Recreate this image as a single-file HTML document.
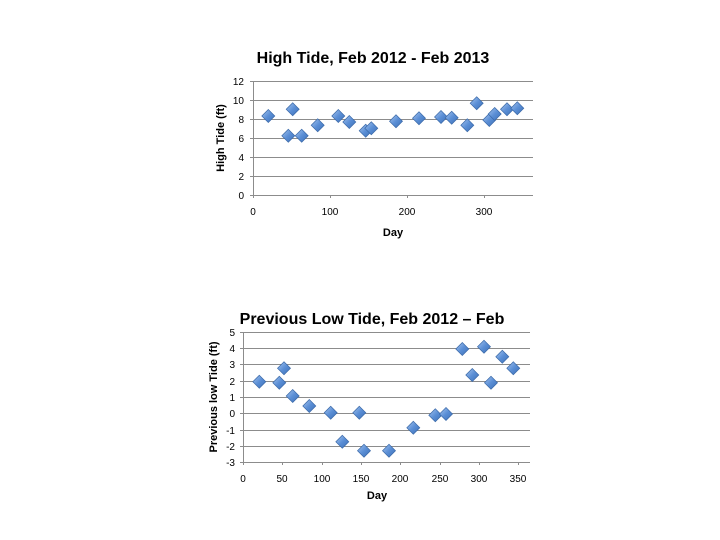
<!DOCTYPE html>
<html><head><meta charset="utf-8"><style>
html,body{margin:0;padding:0;background:#fff}
svg{display:block}
text{font-family:"Liberation Sans",sans-serif;fill:#000}
</style></head><body>
<svg width="720" height="540" viewBox="0 0 720 540" xmlns="http://www.w3.org/2000/svg">
<defs>
<linearGradient id="g" x1="0" y1="0" x2="1" y2="1">
<stop offset="0" stop-color="#a9c6ee"/><stop offset="0.5" stop-color="#5b8fd6"/><stop offset="1" stop-color="#3d6fb5"/>
</linearGradient>
<symbol id="d" viewBox="-7 -7 14 14" overflow="visible"><path d="M0,-6.5 L6.5,0 L0,6.5 L-6.5,0 Z" fill="url(#g)" stroke="#3a69a8" stroke-width="0.7"/></symbol>
</defs>
<!-- Chart 1 -->
<text x="373" y="63" font-size="16" font-weight="bold" text-anchor="middle">High Tide, Feb 2012 - Feb 2013</text>
<g stroke="#8c8c8c" stroke-width="1">
<line x1="253" y1="81.5" x2="533" y2="81.5"/><line x1="253" y1="100.5" x2="533" y2="100.5"/>
<line x1="253" y1="119.5" x2="533" y2="119.5"/><line x1="253" y1="138.5" x2="533" y2="138.5"/>
<line x1="253" y1="157.5" x2="533" y2="157.5"/><line x1="253" y1="176.5" x2="533" y2="176.5"/>
<line x1="253" y1="195.5" x2="533" y2="195.5"/>
<line x1="253.5" y1="81" x2="253.5" y2="198"/>
<line x1="250" y1="81.5" x2="253" y2="81.5"/><line x1="250" y1="100.5" x2="253" y2="100.5"/>
<line x1="250" y1="119.5" x2="253" y2="119.5"/><line x1="250" y1="138.5" x2="253" y2="138.5"/>
<line x1="250" y1="157.5" x2="253" y2="157.5"/><line x1="250" y1="176.5" x2="253" y2="176.5"/>
<line x1="250" y1="195.5" x2="253" y2="195.5"/>
<line x1="330.5" y1="195" x2="330.5" y2="198"/><line x1="407.5" y1="195" x2="407.5" y2="198"/><line x1="484.5" y1="195" x2="484.5" y2="198"/>
</g>
<g font-size="10" text-anchor="end">
<text x="244" y="85">12</text><text x="244" y="104">10</text><text x="244" y="123">8</text><text x="244" y="142">6</text>
<text x="244" y="161">4</text><text x="244" y="180">2</text><text x="244" y="199">0</text>
</g>
<g font-size="10" text-anchor="middle">
<text x="253" y="215">0</text><text x="330" y="215">100</text><text x="407" y="215">200</text><text x="484" y="215">300</text>
</g>
<text x="393" y="236" font-size="11" font-weight="bold" text-anchor="middle">Day</text>
<text transform="translate(224,138) rotate(-90)" font-size="11" font-weight="bold" text-anchor="middle">High Tide (ft)</text>
<g>
<use href="#d" x="261.3" y="109" width="14" height="14"/>
<use href="#d" x="281.3" y="128.7" width="14" height="14"/>
<use href="#d" x="285.7" y="102.3" width="14" height="14"/>
<use href="#d" x="294.7" y="128.7" width="14" height="14"/>
<use href="#d" x="310.7" y="118.3" width="14" height="14"/>
<use href="#d" x="331.3" y="109" width="14" height="14"/>
<use href="#d" x="342.3" y="115" width="14" height="14"/>
<use href="#d" x="358.7" y="123.7" width="14" height="14"/>
<use href="#d" x="364.3" y="121.3" width="14" height="14"/>
<use href="#d" x="389" y="114.3" width="14" height="14"/>
<use href="#d" x="412" y="111.3" width="14" height="14"/>
<use href="#d" x="434" y="110" width="14" height="14"/>
<use href="#d" x="444.7" y="110.7" width="14" height="14"/>
<use href="#d" x="460.3" y="118.3" width="14" height="14"/>
<use href="#d" x="469.7" y="96.3" width="14" height="14"/>
<use href="#d" x="482.3" y="113" width="14" height="14"/>
<use href="#d" x="487.7" y="107" width="14" height="14"/>
<use href="#d" x="500" y="102.3" width="14" height="14"/>
<use href="#d" x="510.3" y="101.3" width="14" height="14"/>
</g>
<!-- Chart 2 -->
<text x="372" y="324" font-size="16" font-weight="bold" text-anchor="middle">Previous Low Tide, Feb 2012 – Feb</text>
<g stroke="#8c8c8c" stroke-width="1">
<line x1="243" y1="332.5" x2="530" y2="332.5"/><line x1="243" y1="348.5" x2="530" y2="348.5"/>
<line x1="243" y1="364.5" x2="530" y2="364.5"/><line x1="243" y1="381.5" x2="530" y2="381.5"/>
<line x1="243" y1="397.5" x2="530" y2="397.5"/><line x1="243" y1="413.5" x2="530" y2="413.5"/>
<line x1="243" y1="430.5" x2="530" y2="430.5"/><line x1="243" y1="446.5" x2="530" y2="446.5"/>
<line x1="243" y1="462.5" x2="530" y2="462.5"/>
<line x1="243.5" y1="332" x2="243.5" y2="465"/>
<line x1="240" y1="332.5" x2="243" y2="332.5"/><line x1="240" y1="348.5" x2="243" y2="348.5"/>
<line x1="240" y1="364.5" x2="243" y2="364.5"/><line x1="240" y1="381.5" x2="243" y2="381.5"/>
<line x1="240" y1="397.5" x2="243" y2="397.5"/><line x1="240" y1="413.5" x2="243" y2="413.5"/>
<line x1="240" y1="430.5" x2="243" y2="430.5"/><line x1="240" y1="446.5" x2="243" y2="446.5"/>
<line x1="240" y1="462.5" x2="243" y2="462.5"/>
<line x1="282.5" y1="462" x2="282.5" y2="465"/><line x1="322.5" y1="462" x2="322.5" y2="465"/>
<line x1="361.5" y1="462" x2="361.5" y2="465"/><line x1="400.5" y1="462" x2="400.5" y2="465"/>
<line x1="440.5" y1="462" x2="440.5" y2="465"/><line x1="479.5" y1="462" x2="479.5" y2="465"/>
<line x1="518.5" y1="462" x2="518.5" y2="465"/>
</g>
<g font-size="10" text-anchor="end">
<text x="235" y="336">5</text><text x="235" y="352">4</text><text x="235" y="368">3</text><text x="235" y="385">2</text>
<text x="235" y="401">1</text><text x="235" y="417">0</text><text x="235" y="434">-1</text><text x="235" y="450">-2</text>
<text x="235" y="466">-3</text>
</g>
<g font-size="10" text-anchor="middle">
<text x="243" y="482">0</text><text x="282" y="482">50</text><text x="322" y="482">100</text><text x="361" y="482">150</text>
<text x="400" y="482">200</text><text x="440" y="482">250</text><text x="479" y="482">300</text><text x="518" y="482">350</text>
</g>
<text x="377" y="499" font-size="11" font-weight="bold" text-anchor="middle">Day</text>
<text transform="translate(217,397) rotate(-90)" font-size="11" font-weight="bold" text-anchor="middle">Previous low Tide (ft)</text>
<g>
<use href="#d" x="252.3" y="374.7" width="14" height="14"/>
<use href="#d" x="272.3" y="375.7" width="14" height="14"/>
<use href="#d" x="277" y="361.3" width="14" height="14"/>
<use href="#d" x="285.7" y="389" width="14" height="14"/>
<use href="#d" x="302.3" y="399" width="14" height="14"/>
<use href="#d" x="323.7" y="405.7" width="14" height="14"/>
<use href="#d" x="335.3" y="434.7" width="14" height="14"/>
<use href="#d" x="352.3" y="405.7" width="14" height="14"/>
<use href="#d" x="357" y="443.7" width="14" height="14"/>
<use href="#d" x="382" y="443.7" width="14" height="14"/>
<use href="#d" x="406.3" y="420.7" width="14" height="14"/>
<use href="#d" x="428.3" y="408.3" width="14" height="14"/>
<use href="#d" x="439" y="407" width="14" height="14"/>
<use href="#d" x="455.3" y="342" width="14" height="14"/>
<use href="#d" x="465.3" y="368" width="14" height="14"/>
<use href="#d" x="477" y="339.7" width="14" height="14"/>
<use href="#d" x="484" y="375.7" width="14" height="14"/>
<use href="#d" x="495.3" y="349.7" width="14" height="14"/>
<use href="#d" x="506.3" y="361.3" width="14" height="14"/>
</g>
</svg>
</body></html>
